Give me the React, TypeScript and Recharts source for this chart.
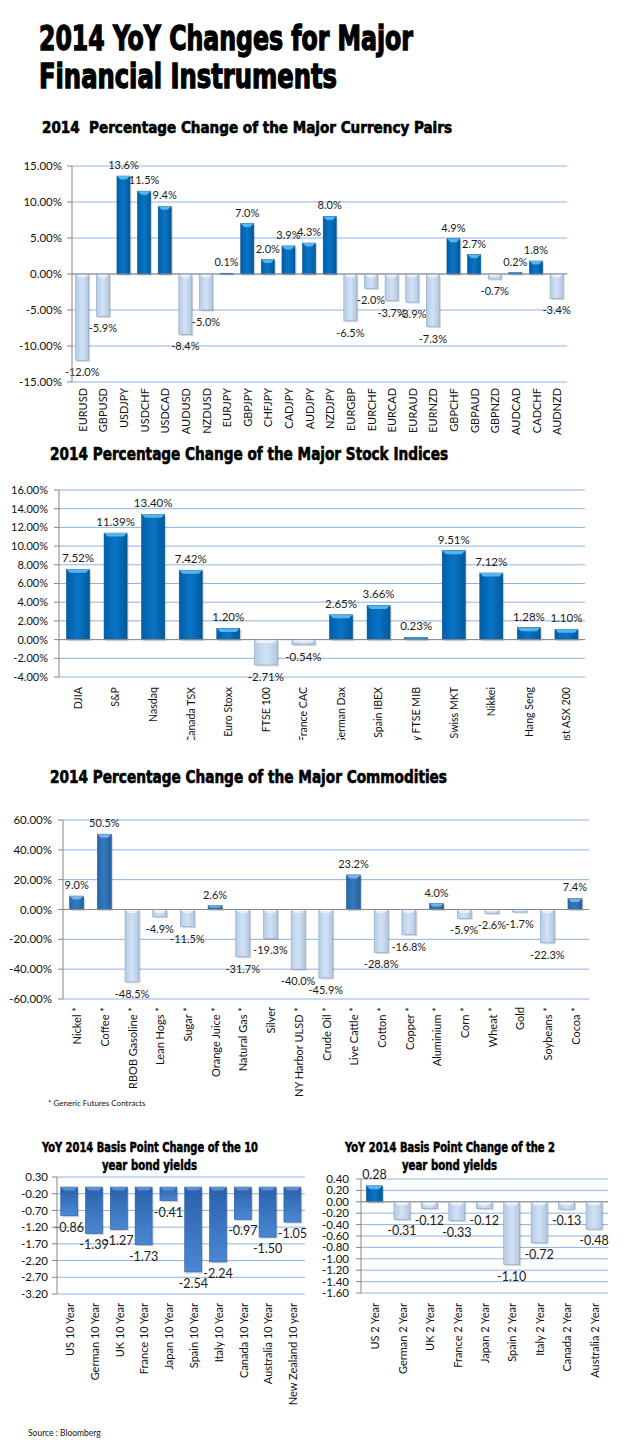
import React from "react";
import { BarChart, Bar, XAxis, YAxis, CartesianGrid, ReferenceLine } from "recharts";

const FONT = "Lato, 'Liberation Sans', sans-serif";
const HEAD_FONT = "'Liberation Sans Narrow', 'DejaVu Sans Condensed', 'DejaVu Sans', sans-serif";

// currency pairs
const fxPairs = [
  "EURUSD", "GBPUSD", "USDJPY", "USDCHF", "USDCAD", "AUDUSD", "NZDUSD", "EURJPY",
  "GBPJPY", "CHFJPY", "CADJPY", "AUDJPY", "NZDJPY", "EURGBP", "EURCHF", "EURCAD",
  "EURAUD", "EURNZD", "GBPCHF", "GBPAUD", "GBPNZD", "AUDCAD", "CADCHF", "AUDNZD",
];
const fxChange = [
  -12.0, -5.9, 13.6, 11.5, 9.4, -8.4, -5.0, 0.1, 7.0, 2.0, 3.9, 4.3, 8.0, -6.5, -2.0, -3.7,
  -3.9, -7.3, 4.9, 2.7, -0.7, 0.2, 1.8, -3.4,
];
const fxTicks = [-15, -10, -5, 0, 5, 10, 15];

// stock indices
const stockNames = [
  "DJIA", "S&P", "Nasdaq", "Canada TSX", "Euro Stoxx", "FTSE 100", "France CAC",
  "German Dax", "Spain IBEX", "Italy FTSE MIB", "Swiss MKT", "Nikkei", "Hang Seng", "Aust ASX 200",
];
const stockChange = [7.52, 11.39, 13.4, 7.42, 1.2, -2.71, -0.54, 2.65, 3.66, 0.23, 9.51, 7.12, 1.28, 1.1];
const stockTicks = [-4, -2, 0, 2, 4, 6, 8, 10, 12, 14, 16];

// commodities
const commodityNames = [
  "Nickel *", "Coffee *", "RBOB Gasoline *", "Lean Hogs *", "Sugar *", "Orange Juice *",
  "Natural Gas *", "Silver", "NY Harbor ULSD *", "Crude Oil *", "Live Cattle *", "Cotton *",
  "Copper *", "Aluminium *", "Corn *", "Wheat *", "Gold", "Soybeans *", "Cocoa *",
];
const commodityChange = [
  9.0, 50.5, -48.5, -4.9, -11.5, 2.6, -31.7, -19.3, -40.0, -45.9, 23.2, -28.8, -16.8, 4.0,
  -5.9, -2.6, -1.7, -22.3, 7.4,
];
const commodityTicks = [-60, -40, -20, 0, 20, 40, 60];

// 10 year yields
const bond10Names = [
  "US 10 Year", "German 10 Year", "UK 10 Year", "France 10 Year", "Japan 10 Year",
  "Spain 10 Year", "Italy 10 Year", "Canada 10 Year", "Australia 10 Year", "New Zealand 10 year",
];
const bond10Change = [-0.86, -1.39, -1.27, -1.73, -0.41, -2.54, -2.24, -0.97, -1.5, -1.05];
const bond10Ticks = [0.3, -0.2, -0.7, -1.2, -1.7, -2.2, -2.7, -3.2];

// 2 year yields
const bond2Names = [
  "US 2 Year", "German 2 Year", "UK 2 Year", "France 2 Year", "Japan 2 Year",
  "Spain 2 Year", "Italy 2 Year", "Canada 2 Year", "Australia 2 Year",
];
const bond2Change = [0.28, -0.31, -0.12, -0.33, -0.12, -1.1, -0.72, -0.13, -0.48];
const bond2Ticks = [0.4, 0.2, 0, -0.2, -0.4, -0.6, -0.8, -1.0, -1.2, -1.4, -1.6];

type Pal = { fill: string; edge: string; light: string };

const darkBlue: Pal = { fill: "url(#gPos)", edge: "#00538F", light: "#58B4EC" };
const steelBlue: Pal = { fill: "url(#gSteel)", edge: "#1F5A97", light: "#7DB0E0" };
const paleBlue: Pal = { fill: "url(#gNeg)", edge: "#8CA6C4", light: "#EAF2FB" };
const bondBlue: Pal = { fill: "url(#gBond)", edge: "#2A5B9E", light: "#5A8FD3" };

const zip = (names: string[], vals: number[]) => names.map((name, i) => ({ name, v: vals[i] }));

function BevelBar(props: any) {
  const { x, y, width, height, payload, pos, neg, fmt, fs } = props;
  if (!width || height == null) return null;
  const top = Math.min(y, y + height);
  const h = Math.abs(height);
  const up = payload.v >= 0;
  const p: Pal = up ? pos : neg;
  const b = Math.min(3.5, h / 2, width / 3);
  const cx = x + width / 2;
  return (
    <g>
      <rect x={x + 1.5} y={top + 1.5} width={width} height={h} fill="#000" opacity={0.16} />
      <rect x={x} y={top} width={width} height={h} fill={p.fill} stroke={p.edge} strokeWidth={0.6} />
      {h > 1 && (
        <path
          d={`M${x},${top} L${x + width},${top} L${x + width - b},${top + b} L${x + b},${top + b} Z`}
          fill={p.light}
        />
      )}
      <text
        x={cx}
        y={up ? top - 7 : top + h + 16}
        textAnchor="middle"
        fontSize={fs}
        fontFamily={FONT}
        fill="#1a1a1a"
      >
        {fmt(payload.v)}
      </text>
    </g>
  );
}

function RotTick(props: any) {
  const { x, y, payload, fs } = props;
  return (
    <text
      x={x}
      y={y}
      transform={`rotate(-90 ${x} ${y})`}
      textAnchor="end"
      dominantBaseline="central"
      fontSize={fs}
      fontFamily={FONT}
      fill="#111"
    >
      {payload.value}
    </text>
  );
}

interface PanelProps {
  data: { name: string; v: number }[];
  left: number;
  top: number;
  width: number;
  height: number;
  mTop: number;
  mRight: number;
  yWidth: number;
  xHeight: number;
  xMargin: number;
  yTickMargin: number;
  domain: [number, number];
  ticks: number[];
  yFmt: (v: number) => string;
  labelFmt: (v: number) => string;
  gap: string;
  tickFs: number;
  labelFs: number;
  yFs: number;
  pos: Pal;
  neg: Pal;
  zeroLine: boolean;
}

function Panel(p: PanelProps) {
  return (
    <div style={{ position: "absolute", left: p.left, top: p.top, width: p.width, height: p.height, overflow: "hidden" }}>
      <BarChart
        width={p.width}
        height={p.height}
        data={p.data}
        margin={{ top: p.mTop, right: p.mRight, bottom: 0, left: 0 }}
        barCategoryGap={p.gap}
      >
        <CartesianGrid horizontal vertical={false} stroke="#8DB4E2" strokeWidth={1} />
        <XAxis
          dataKey="name"
          interval={0}
          axisLine={false}
          tickLine={false}
          tickSize={0}
          tickMargin={p.xMargin}
          height={p.xHeight}
          tick={(t: any) => <RotTick {...t} fs={p.tickFs} />}
        />
        <YAxis
          type="number"
          domain={p.domain}
          ticks={p.ticks}
          interval={0}
          width={p.yWidth}
          tickFormatter={p.yFmt}
          axisLine={{ stroke: "#868686" }}
          tickLine={{ stroke: "#868686" }}
          tickSize={5}
          tickMargin={p.yTickMargin}
          tick={{ fontSize: p.yFs, fontFamily: FONT, fill: "#111" }}
        />
        {p.zeroLine && <ReferenceLine y={0} stroke="#8C8C8C" strokeWidth={1} />}
        <Bar
          dataKey="v"
          isAnimationActive={false}
          shape={(s: any) => <BevelBar {...s} pos={p.pos} neg={p.neg} fmt={p.labelFmt} fs={p.labelFs} />}
        />
      </BarChart>
    </div>
  );
}

const pct2 = (v: number) => `${v.toFixed(2)}%`;
const pct1 = (v: number) => `${v.toFixed(1)}%`;
const dec2 = (v: number) => v.toFixed(2);

function Head({ x, y, size, len, text, stroke = 0.6 }: any) {
  return (
    <text
      x={x}
      y={y}
      fontSize={size}
      fontFamily={HEAD_FONT}
      fontWeight={700}
      fill="#000"
      stroke="#000"
      strokeWidth={stroke}
      textLength={len}
      lengthAdjust="spacingAndGlyphs"
      style={{ whiteSpace: "pre" }}
    >
      {text}
    </text>
  );
}

export default function App() {
  return (
    <div style={{ position: "absolute", left: 0, top: 0, width: 625, height: 1448, background: "#fff" }}>
      <svg width={0} height={0} style={{ position: "absolute" }}>
        <defs>
          <linearGradient id="gPos" x1="0" x2="1" y1="0" y2="0">
            <stop offset="0" stopColor="#005FA6" />
            <stop offset="0.5" stopColor="#0A74C6" />
            <stop offset="1" stopColor="#005A9C" />
          </linearGradient>
          <linearGradient id="gSteel" x1="0" x2="1" y1="0" y2="0">
            <stop offset="0" stopColor="#2767AA" />
            <stop offset="0.5" stopColor="#3479BE" />
            <stop offset="1" stopColor="#23609F" />
          </linearGradient>
          <linearGradient id="gNeg" x1="0" x2="1" y1="0" y2="0">
            <stop offset="0" stopColor="#B4CBE6" />
            <stop offset="0.5" stopColor="#D2E2F5" />
            <stop offset="1" stopColor="#B1C7E1" />
          </linearGradient>
          <linearGradient id="gBond" x1="0" x2="0" y1="0" y2="1">
            <stop offset="0" stopColor="#2B60AA" />
            <stop offset="1" stopColor="#4A88D4" />
          </linearGradient>
        </defs>
      </svg>

      <Panel
        data={zip(fxPairs, fxChange)}
        left={0} top={150} width={625} height={290}
        mTop={16} mRight={58} yWidth={72} xHeight={58} xMargin={6} yTickMargin={5}
        domain={[-15, 15]} ticks={fxTicks} yFmt={pct2} labelFmt={pct1}
        gap="18%" tickFs={11} labelFs={11} yFs={11.5} pos={darkBlue} neg={paleBlue} zeroLine
      />
      <Panel
        data={zip(stockNames, stockChange)}
        left={0} top={470} width={625} height={270}
        mTop={20} mRight={40} yWidth={59} xHeight={63} xMargin={10} yTickMargin={6}
        domain={[-4, 16]} ticks={stockTicks} yFmt={pct2} labelFmt={pct2}
        gap="20%" tickFs={10.6} labelFs={11.5} yFs={11} pos={darkBlue} neg={paleBlue} zeroLine
      />
      <Panel
        data={zip(commodityNames, commodityChange)}
        left={0} top={795} width={625} height={310}
        mTop={25} mRight={36} yWidth={63} xHeight={106} xMargin={8} yTickMargin={6}
        domain={[-60, 60]} ticks={commodityTicks} yFmt={pct2} labelFmt={pct1}
        gap="24%" tickFs={11} labelFs={11} yFs={11.5} pos={steelBlue} neg={paleBlue} zeroLine
      />
      <Panel
        data={zip(bond10Names, bond10Change)}
        left={0} top={1160} width={320} height={255}
        mTop={17} mRight={15} yWidth={57} xHeight={121} xMargin={9} yTickMargin={4}
        domain={[-3.2, 0.3]} ticks={bond10Ticks} yFmt={dec2} labelFmt={dec2}
        gap="15%" tickFs={11} labelFs={12.5} yFs={11.5} pos={bondBlue} neg={bondBlue} zeroLine={false}
      />
      <Panel
        data={zip(bond2Names, bond2Change)}
        left={300} top={1160} width={325} height={255}
        mTop={19} mRight={17} yWidth={61} xHeight={122} xMargin={10} yTickMargin={7}
        domain={[-1.6, 0.4]} ticks={bond2Ticks} yFmt={dec2} labelFmt={dec2}
        gap="20%" tickFs={11} labelFs={12.5} yFs={11.5} pos={darkBlue} neg={paleBlue} zeroLine
      />

      <svg width={625} height={1448} style={{ position: "absolute", left: 0, top: 0, pointerEvents: "none" }}>
        <Head x={39} y={50} size={34} len={374} stroke={1.3} text="2014 YoY Changes for Major" />
        <Head x={39} y={88} size={34} len={298} stroke={1.3} text="Financial Instruments" />
        <Head x={42} y={133} size={15.5} len={410} text="2014  Percentage Change of the Major Currency Pairs" />
        <Head x={50} y={460} size={17.5} len={398} text="2014 Percentage Change of the Major Stock Indices" />
        <Head x={50} y={783} size={17} len={397} text="2014 Percentage Change of the Major Commodities" />
        <Head x={42} y={1152} size={13.5} len={216} stroke={0.5} text="YoY 2014 Basis Point Change of the 10" />
        <Head x={102} y={1170} size={13.5} len={95} stroke={0.5} text="year bond yields" />
        <Head x={345} y={1152} size={13.5} len={210} stroke={0.5} text="YoY 2014 Basis Point Change of the 2" />
        <Head x={402} y={1170} size={13.5} len={95} stroke={0.5} text="year bond yields" />
        <text x={48} y={1106} fontSize={8} fontFamily={FONT} fill="#111">* Generic Futures Contracts</text>
        <text x={28} y={1436} fontSize={8.5} fontFamily={FONT} fill="#111">Source : Bloomberg</text>
      </svg>
    </div>
  );
}
